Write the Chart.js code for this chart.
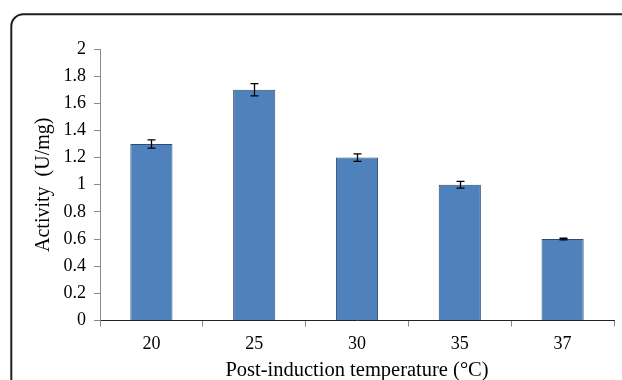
<!DOCTYPE html>
<html>
<head>
<meta charset="utf-8">
<script src="https://cdn.jsdelivr.net/npm/chart.js@4.4.0/dist/chart.umd.min.js"></script>
<style>
	body { margin: 0; background: #fff; }
	#wrap { width: 622px; height: 380px; }
</style>
</head>
<body>
<div id="wrap"><canvas id="myChart" width="622" height="380"></canvas></div>
<script>
// データ
const temps = ['20', '25', '30', '35', '37'];
const activity = [1.3, 1.7, 1.2, 1.0, 0.6];
const errors = [0.03, 0.045, 0.028, 0.025, 0.006];
const yTicks = [0, 0.2, 0.4, 0.6, 0.8, 1, 1.2, 1.4, 1.6, 1.8, 2];

const serif = 'Liberation Serif, Times New Roman, serif';

// 外枠(角丸)
const framePlugin = {
	id: 'frame',
	beforeDraw(chart)
	{
		const ctx = chart.ctx;
		ctx.save();
		ctx.strokeStyle = '#1e1e1e';
		ctx.lineWidth = 2;
		ctx.beginPath();
		ctx.moveTo(11.3, 400);
		ctx.lineTo(11.3, 26);
		ctx.arcTo(11.3, 14.3, 23, 14.3, 12);
		ctx.lineTo(640, 14.3);
		ctx.stroke();
		ctx.restore();
	}
};

// エラーバー
const errorBarPlugin = {
	id: 'errorBars',
	afterDatasetsDraw(chart)
	{
		const ctx = chart.ctx;
		const y = chart.scales.y;
		const meta = chart.getDatasetMeta(0);
		ctx.save();
		ctx.strokeStyle = '#000';
		ctx.lineWidth = 1.3;
		meta.data.forEach((bar, i) =>
		{
			const x = Math.round(bar.x) + 0.5;
			const top = y.getPixelForValue(activity[i] + errors[i]);
			const bot = y.getPixelForValue(activity[i] - errors[i]);
			ctx.beginPath();
			ctx.moveTo(x, top);
			ctx.lineTo(x, bot);
			ctx.moveTo(x - 4, top);
			ctx.lineTo(x + 4, top);
			ctx.moveTo(x - 4, bot);
			ctx.lineTo(x + 4, bot);
			ctx.stroke();
		});
		ctx.restore();
	}
};

const ctx = document.getElementById('myChart').getContext('2d');
const myChart = new Chart(ctx, {
	type: 'bar',
	data: {
		labels: temps,
		datasets: [{
			data: activity,
			backgroundColor: '#4f81bd',
			borderColor: '#2f4d73',
			borderWidth: 1,
			barPercentage: 0.41,
			categoryPercentage: 1
		}]
	},
	options: {
		responsive: false,
		animation: false,
		devicePixelRatio: 1,
		layout: { padding: { top: 49, right: 8, bottom: 0, left: 0 } },
		plugins: {
			legend: { display: false },
			tooltip: { enabled: false }
		},
		scales: {
			x: {
				grid: {
					offset: true,
					drawOnChartArea: false,
					tickLength: 6,
					color: '#888'
				},
				border: { color: '#222', width: 1 },
				ticks: {
					color: '#000',
					font: { family: serif, size: 18 },
					padding: 7,
					maxRotation: 0
				},
				title: {
					display: true,
					text: 'Post-induction temperature (°C)',
					color: '#000',
					font: { family: serif, size: 20.5, lineHeight: 0.9 },
					padding: 0
				},
				afterFit(scale) { scale.height = 380 - 320.5; }
			},
			y: {
				min: 0,
				max: 2,
				afterBuildTicks(scale) { scale.ticks = yTicks.map(v => ({ value: v })); },
				grid: {
					drawOnChartArea: false,
					tickLength: 6,
					color: '#888'
				},
				border: { color: '#888', width: 1 },
				ticks: {
					color: '#000',
					font: { family: serif, size: 18 },
					padding: 8,
					callback: v => String(+v.toFixed(1))
				},
				title: {
					display: true,
					text: 'Activity  (U/mg)',
					color: '#000',
					font: { family: serif, size: 20 },
					padding: { top: 32, bottom: 0 }
				},
				afterFit(scale) { scale.width = 100; }
			}
		}
	},
	plugins: [framePlugin, errorBarPlugin]
});
</script>
</body>
</html>
